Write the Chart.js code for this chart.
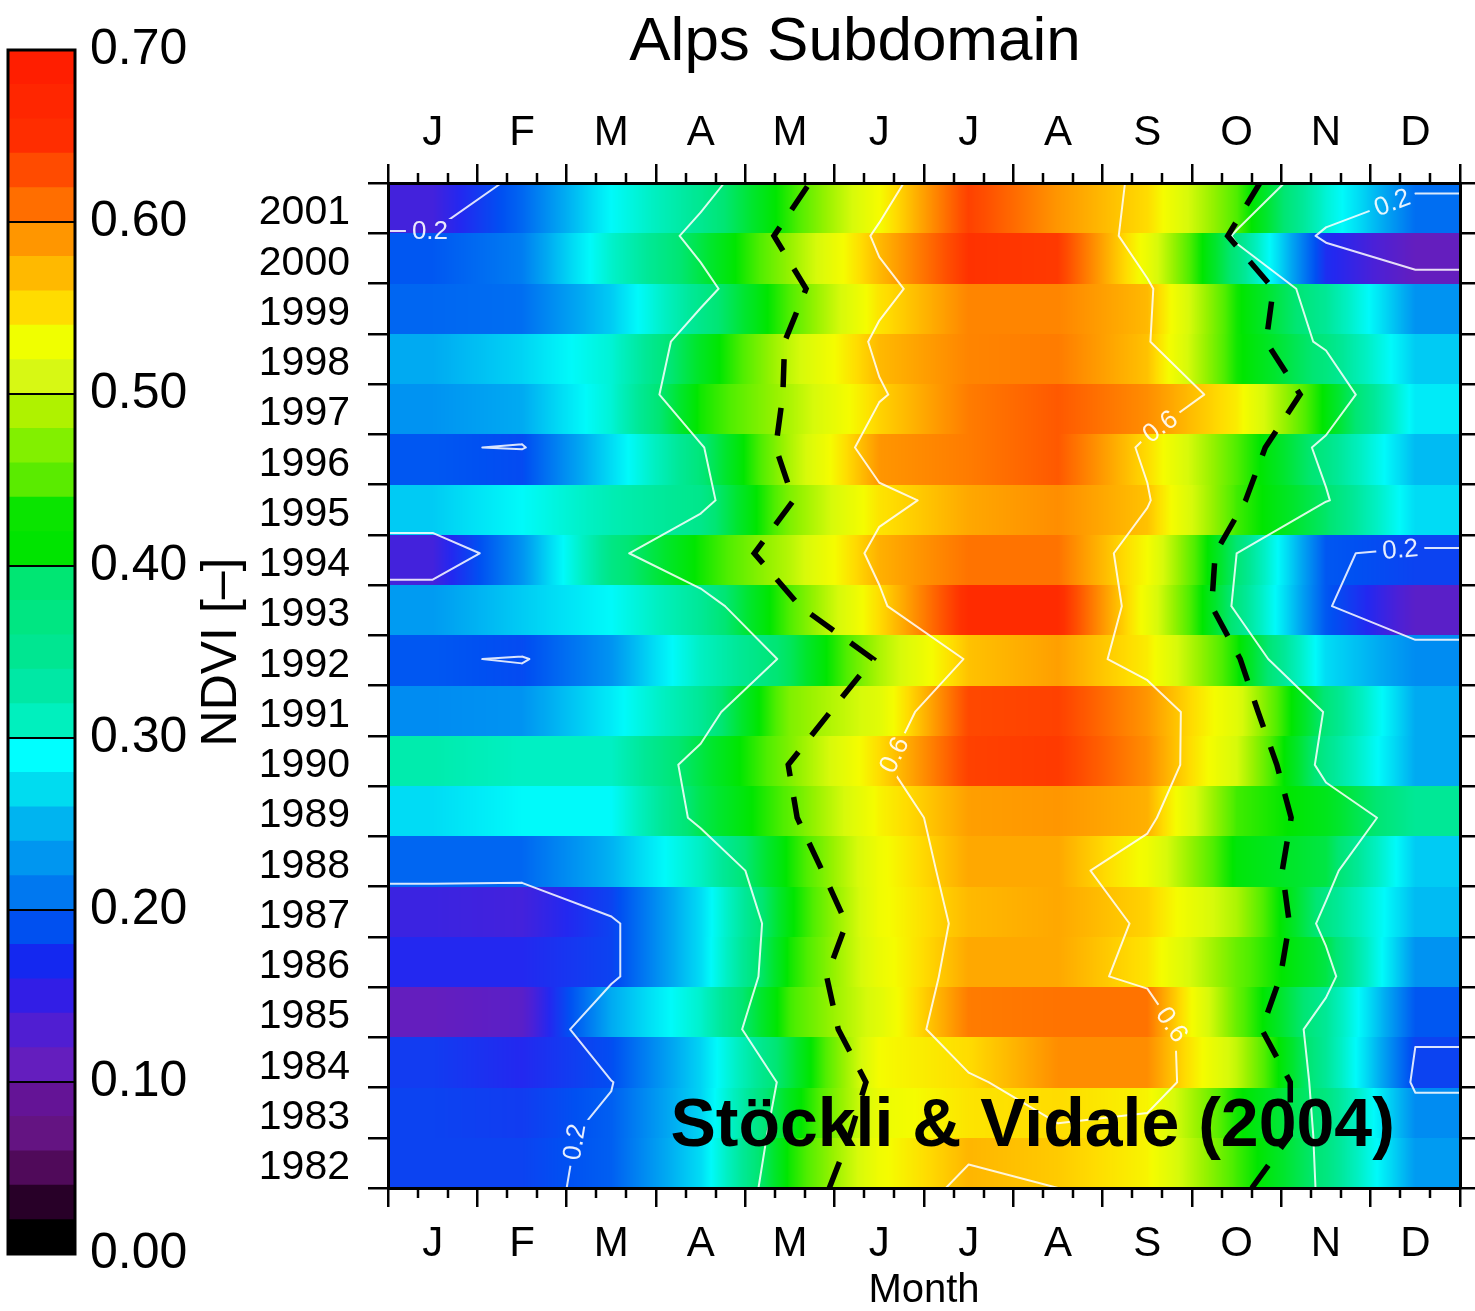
<!DOCTYPE html>
<html>
<head>
<meta charset="utf-8">
<title>Alps Subdomain NDVI</title>
<script src="https://cdn.jsdelivr.net/npm/chart.js@4.4.1/dist/chart.umd.min.js"></script>
<style>
  html, body { margin: 0; padding: 0; background: #fff; }
  #wrap { position: relative; width: 1475px; height: 1311px; }
  #main-box { position: absolute; left: 235px; top: 0; width: 1240px; height: 1311px; z-index: 1; }
  #bar-box { position: absolute; left: 0; top: 0; width: 260px; height: 1311px; z-index: 2; }
</style>
</head>
<body>
<div id="wrap">
  <div id="main-box"><canvas id="ndvi-chart"></canvas></div>
  <div id="bar-box"><canvas id="ndvi-bar"></canvas></div>
</div>
<script>
const months = ['J', 'F', 'M', 'A', 'M', 'J', 'J', 'A', 'S', 'O', 'N', 'D'];
const years = [1982, 1983, 1984, 1985, 1986, 1987, 1988, 1989, 1990, 1991,
               1992, 1993, 1994, 1995, 1996, 1997, 1998, 1999, 2000, 2001];

// monthly mean NDVI, one row per year (1982 first), Jan..Dec
const ndvi = [
  [0.19, 0.19, 0.21, 0.29, 0.46, 0.565, 0.612, 0.60, 0.575, 0.475, 0.39, 0.25],   // 1982
  [0.19, 0.185, 0.21, 0.285, 0.44, 0.56, 0.585, 0.59, 0.575, 0.46, 0.39, 0.24],   // 1983
  [0.185, 0.17, 0.198, 0.285, 0.42, 0.57, 0.59, 0.635, 0.635, 0.53, 0.37, 0.19],  // 1984
  [0.12, 0.13, 0.26, 0.335, 0.475, 0.55, 0.645, 0.65, 0.65, 0.49, 0.37, 0.205],   // 1985
  [0.17, 0.17, 0.19, 0.29, 0.46, 0.56, 0.62, 0.62, 0.585, 0.49, 0.42, 0.245],     // 1986
  [0.155, 0.15, 0.19, 0.29, 0.45, 0.565, 0.61, 0.62, 0.595, 0.52, 0.385, 0.27],   // 1987
  [0.215, 0.215, 0.265, 0.34, 0.46, 0.565, 0.62, 0.62, 0.565, 0.45, 0.42, 0.28],  // 1988
  [0.29, 0.31, 0.31, 0.415, 0.485, 0.575, 0.625, 0.63, 0.615, 0.475, 0.44, 0.37], // 1989
  [0.355, 0.34, 0.34, 0.42, 0.50, 0.59, 0.68, 0.685, 0.635, 0.54, 0.38, 0.26],    // 1990
  [0.24, 0.245, 0.30, 0.37, 0.50, 0.55, 0.675, 0.68, 0.63, 0.55, 0.395, 0.26],    // 1991
  [0.205, 0.196, 0.245, 0.34, 0.41, 0.52, 0.605, 0.625, 0.58, 0.46, 0.29, 0.24],  // 1992
  [0.25, 0.28, 0.31, 0.37, 0.48, 0.59, 0.70, 0.70, 0.56, 0.39, 0.205, 0.13],      // 1993
  [0.15, 0.245, 0.385, 0.46, 0.525, 0.615, 0.65, 0.65, 0.57, 0.40, 0.205, 0.19],  // 1994
  [0.28, 0.31, 0.35, 0.38, 0.50, 0.585, 0.62, 0.635, 0.605, 0.475, 0.405, 0.29],  // 1995
  [0.205, 0.196, 0.29, 0.395, 0.52, 0.63, 0.645, 0.665, 0.59, 0.48, 0.385, 0.27], // 1996
  [0.245, 0.26, 0.33, 0.46, 0.52, 0.595, 0.645, 0.665, 0.635, 0.58, 0.45, 0.30],  // 1997
  [0.26, 0.285, 0.33, 0.435, 0.53, 0.61, 0.64, 0.645, 0.605, 0.46, 0.39, 0.28],   // 1998
  [0.215, 0.22, 0.28, 0.38, 0.48, 0.585, 0.64, 0.64, 0.61, 0.46, 0.37, 0.245],    // 1999
  [0.205, 0.23, 0.335, 0.42, 0.51, 0.61, 0.69, 0.685, 0.56, 0.39, 0.175, 0.12],   // 2000
  [0.15, 0.215, 0.31, 0.375, 0.47, 0.57, 0.68, 0.63, 0.59, 0.48, 0.33, 0.22]      // 2001
];

// start and end of the growing season, in months from 1 Jan (1982 first)
const seasonStart = [4.94, 5.17, 5.35, 5.04, 4.91, 5.13, 4.86, 4.58, 4.48, 4.95,
                     5.43, 4.61, 4.10, 4.54, 4.34, 4.42, 4.44, 4.68, 4.32, 4.72];
const seasonEnd = [9.67, 10.10, 10.10, 9.78, 9.99, 10.09, 10.01, 10.11, 9.95, 9.74,
                   9.54, 9.22, 9.26, 9.60, 9.82, 10.21, 9.83, 9.91, 9.40, 9.76];

const contourLevels = [0.2, 0.4, 0.6];
// where the contour values are written (month, year)
const contourLabels = [
  { level: 0.2, month: 0.47, year: 2000.2 },
  { level: 0.2, month: 11.27, year: 2000.5 },
  { level: 0.6, month: 8.64, year: 1996.4 },
  { level: 0.6, month: 5.65, year: 1990.2 },
  { level: 0.2, month: 11.33, year: 1994.1 },
  { level: 0.6, month: 8.7, year: 1985.0 },
  { level: 0.2, month: 1.98, year: 1982.9 }
];

const legendTicks = [0, 0.1, 0.2, 0.3, 0.4, 0.5, 0.6, 0.7];

// 35 colour classes of the legend, 0.00 -> 0.70
const levelColors = [
  'rgb(0,0,0)', 'rgb(40,0,40)', 'rgb(80,10,90)', 'rgb(100,20,130)', 'rgb(100,20,150)',
  'rgb(100,30,190)', 'rgb(80,30,210)', 'rgb(50,30,230)', 'rgb(20,40,240)', 'rgb(0,80,240)',
  'rgb(0,120,240)', 'rgb(0,150,240)', 'rgb(0,180,240)', 'rgb(0,220,240)', 'rgb(0,255,255)',
  'rgb(0,240,190)', 'rgb(0,232,165)', 'rgb(0,230,145)', 'rgb(0,230,130)', 'rgb(0,230,115)',
  'rgb(0,228,0)', 'rgb(10,228,0)', 'rgb(90,235,0)', 'rgb(130,240,0)', 'rgb(175,242,0)',
  'rgb(215,248,20)', 'rgb(240,255,0)', 'rgb(255,220,0)', 'rgb(255,185,0)', 'rgb(255,150,0)',
  'rgb(255,110,0)', 'rgb(255,75,0)', 'rgb(255,45,0)', 'rgb(255,38,0)', 'rgb(255,30,0)'
];

// continuous ramp used to shade the field: [value, r, g, b]
const ramp = [
  [0.00, 0, 0, 0], [0.04, 40, 0, 40], [0.07, 85, 10, 95], [0.10, 100, 22, 145],
  [0.12, 100, 30, 190], [0.145, 75, 32, 215], [0.17, 35, 40, 240], [0.20, 0, 80, 242],
  [0.23, 0, 125, 242], [0.26, 0, 170, 242], [0.29, 0, 220, 245], [0.31, 0, 250, 250],
  [0.34, 0, 240, 195], [0.37, 0, 232, 150], [0.40, 0, 230, 115], [0.43, 0, 230, 45],
  [0.455, 0, 230, 0], [0.48, 80, 238, 0], [0.51, 150, 242, 0], [0.54, 215, 250, 10],
  [0.57, 245, 252, 0], [0.59, 255, 220, 0], [0.61, 255, 185, 0], [0.63, 255, 150, 0],
  [0.65, 255, 115, 0], [0.67, 255, 80, 0], [0.69, 255, 50, 0], [0.72, 255, 30, 0]
];

Chart.defaults.font.family = '"Liberation Sans", Arial, sans-serif';
Chart.defaults.color = '#000';

function shade(v) {
  let i = 1;
  while (i < ramp.length - 1 && v > ramp[i][0]) i++;
  const a = ramp[i - 1], b = ramp[i];
  const t = Math.min(1, Math.max(0, (v - a[0]) / (b[0] - a[0])));
  const c = [1, 2, 3].map(k => Math.round(a[k] + t * (b[k] - a[k])));
  return `rgb(${c.join(',')})`;
}

// linear interpolation between month centres, flat beyond Jan/Dec centres
function valueAt(row, m) {
  const t = Math.min(row.length - 1, Math.max(0, m - 0.5));
  const i = Math.min(row.length - 2, Math.floor(t));
  return row[i] + (t - i) * (row[i + 1] - row[i]);
}

// marching squares over the year x month grid, in data units
function contourSegments(level) {
  const xs = [0, ...months.map((_, i) => i + 0.5), 12];
  const grid = ndvi.map(row => [row[0], ...row, row[row.length - 1]]);
  const segs = [];
  for (let r = 0; r < grid.length - 1; r++) {
    for (let c = 0; c < xs.length - 1; c++) {
      const corners = [
        [xs[c], years[r], grid[r][c]],
        [xs[c + 1], years[r], grid[r][c + 1]],
        [xs[c + 1], years[r + 1], grid[r + 1][c + 1]],
        [xs[c], years[r + 1], grid[r + 1][c]]
      ];
      const pts = [];
      for (let e = 0; e < 4; e++) {
        const a = corners[e], b = corners[(e + 1) % 4];
        if ((a[2] < level) !== (b[2] < level)) {
          const t = (level - a[2]) / (b[2] - a[2]);
          pts.push({ x: a[0] + t * (b[0] - a[0]), y: a[1] + t * (b[1] - a[1]) });
        }
      }
      if (pts.length === 2) {
        segs.push([pts[0], pts[1]]);
      } else if (pts.length === 4) {
        const mid = corners.reduce((s, k) => s + k[2], 0) / 4;
        if ((mid < level) === (corners[0][2] < level)) {
          segs.push([pts[0], pts[1]], [pts[2], pts[3]]);
        } else {
          segs.push([pts[3], pts[0]], [pts[1], pts[2]]);
        }
      }
    }
  }
  return segs;
}

function nearestOnSegments(segs, p) {
  let best = null;
  segs.forEach(([a, b]) => {
    const dx = b.x - a.x, dy = b.y - a.y;
    const len2 = dx * dx + dy * dy || 1;
    const t = Math.max(0, Math.min(1, ((p.x - a.x) * dx + (p.y - a.y) * dy) / len2));
    const qx = a.x + t * dx, qy = a.y + t * dy;
    const d = (qx - p.x) ** 2 + (qy - p.y) ** 2;
    if (!best || d < best.d) best = { d, x: qx, y: qy, angle: Math.atan2(dy, dx) };
  });
  return best;
}

const ndviField = {
  id: 'ndviField',
  beforeDatasetsDraw(chart) {
    const { ctx, chartArea: area } = chart;
    const { x, y, yc } = chart.scales;

    ctx.save();
    ctx.beginPath();
    ctx.rect(area.left, area.top, area.width, area.height);
    ctx.clip();
    years.forEach((yr, r) => {
      const top = Math.round(y.getPixelForValue(yr + 0.5));
      const bottom = Math.round(y.getPixelForValue(yr - 0.5));
      for (let px = Math.floor(area.left); px < Math.ceil(area.right); px++) {
        ctx.fillStyle = shade(valueAt(ndvi[r], x.getValueForPixel(px + 0.5)));
        ctx.fillRect(px, top, 1, bottom - top);
      }
    });
    ctx.restore();

    // white contour lines with gaps for their labels
    const toPx = p => ({ x: x.getPixelForValue(p.x), y: yc.getPixelForValue(p.y) });
    const lines = {};
    contourLevels.forEach(level => { lines[level] = contourSegments(level).map(s => s.map(toPx)); });

    ctx.save();
    ctx.font = '26px "Liberation Sans", Arial, sans-serif';
    const marks = contourLabels.map(lb => {
      const p = { x: x.getPixelForValue(lb.month), y: yc.getPixelForValue(lb.year) };
      const near = nearestOnSegments(lines[lb.level], p);
      let angle = near.angle;
      if (angle > Math.PI / 2) angle -= Math.PI;
      if (angle <= -Math.PI / 2) angle += Math.PI;
      const text = lb.level.toFixed(1);
      return { x: near.x, y: near.y, angle, text, w: ctx.measureText(text).width + 12, h: 24 };
    });

    ctx.beginPath();
    ctx.rect(area.left, area.top, area.width, area.height);
    marks.forEach(m => {
      const c = Math.cos(m.angle), s = Math.sin(m.angle);
      const pts = [[-m.w / 2, -m.h / 2], [m.w / 2, -m.h / 2], [m.w / 2, m.h / 2], [-m.w / 2, m.h / 2]]
        .map(([u, v]) => [m.x + u * c - v * s, m.y + u * s + v * c]);
      ctx.moveTo(pts[0][0], pts[0][1]);
      pts.slice(1).forEach(q => ctx.lineTo(q[0], q[1]));
      ctx.closePath();
    });
    ctx.clip('evenodd');
    ctx.strokeStyle = 'rgba(255,255,255,0.85)';
    ctx.lineWidth = 2;
    ctx.lineCap = 'round';
    ctx.lineJoin = 'round';
    ctx.beginPath();
    Object.values(lines).forEach(segs => segs.forEach(([a, b]) => {
      ctx.moveTo(a.x, a.y);
      ctx.lineTo(b.x, b.y);
    }));
    ctx.stroke();
    ctx.restore();

    ctx.save();
    ctx.font = '26px "Liberation Sans", Arial, sans-serif';
    ctx.fillStyle = 'rgba(255,255,255,0.9)';
    ctx.textAlign = 'center';
    ctx.textBaseline = 'middle';
    marks.forEach(m => {
      ctx.save();
      ctx.translate(m.x, m.y);
      ctx.rotate(m.angle);
      ctx.fillText(m.text, 0, 1);
      ctx.restore();
    });
    ctx.restore();
  },
  afterDraw(chart) {
    const { ctx, chartArea: area } = chart;
    const { x, y } = chart.scales;

    // dekad ticks between the month ticks
    ctx.save();
    ctx.strokeStyle = '#000';
    ctx.lineWidth = 2.5;
    ctx.beginPath();
    for (let k = 1; k < 36; k++) {
      if (k % 3 === 0) continue;
      const px = Math.round(x.getPixelForValue(k / 3));
      ctx.moveTo(px, area.top);
      ctx.lineTo(px, area.top - 10);
      ctx.moveTo(px, area.bottom);
      ctx.lineTo(px, area.bottom + 10);
    }
    ctx.stroke();

    ctx.font = 'bold 68px "Liberation Sans", Arial, sans-serif';
    ctx.fillStyle = '#000';
    ctx.textAlign = 'right';
    ctx.textBaseline = 'alphabetic';
    ctx.fillText('Stöckli & Vidale (2004)', x.getPixelForValue(11.27), y.getPixelForValue(1982.34));
    ctx.restore();
  }
};

function monthAxis(position, padding, height) {
  return {
    type: 'linear',
    position,
    min: 0,
    max: 12,
    afterBuildTicks: s => { s.ticks = months.map((_, i) => ({ value: i + 0.5 })); },
    afterFit: s => { s.height = height; },
    ticks: { callback: (v, i) => months[i], autoSkip: false, maxRotation: 0, padding, font: { size: 42 } },
    grid: { offset: true, drawOnChartArea: false, color: '#000', lineWidth: 2.5, tickLength: 19 },
    border: { color: '#000', width: 3, z: 1 }
  };
}

function yearAxis(position, width, showLabels) {
  return {
    type: 'linear',
    position,
    min: years[0] - 0.5,
    max: years[years.length - 1] + 0.5,
    afterBuildTicks: s => { s.ticks = years.map(v => ({ value: v })); },
    afterFit: s => { s.width = width; },
    ticks: { display: showLabels, callback: v => String(v), autoSkip: false, padding: 18, labelOffset: 5, font: { size: 41 } },
    grid: { offset: true, drawOnChartArea: false, color: '#000', lineWidth: 2.5, tickLength: showLabels ? 20 : 15 },
    border: { color: '#000', width: 3, z: 1 }
  };
}

const bottomAxis = monthAxis('bottom', 12, 123);
bottomAxis.title = { display: true, text: 'Month', font: { size: 40, lineHeight: 1 }, padding: 0 };

new Chart(document.getElementById('ndvi-chart'), {
  type: 'line',
  data: {
    datasets: [
      {
        label: 'Season start',
        data: years.map((yr, i) => ({ x: seasonStart[i], y: yr })),
        yAxisID: 'yc'
      },
      {
        label: 'Season end',
        data: years.map((yr, i) => ({ x: seasonEnd[i], y: yr })),
        yAxisID: 'yc'
      }
    ].map(ds => Object.assign(ds, {
      borderColor: '#000',
      borderWidth: 5.5,
      borderDash: [28, 21],
      borderCapStyle: 'butt',
      pointRadius: 0,
      tension: 0,
      fill: false
    }))
  },
  options: {
    responsive: true,
    maintainAspectRatio: false,
    animation: false,
    events: [],
    plugins: {
      legend: { display: false },
      tooltip: { enabled: false },
      title: {
        display: true,
        text: 'Alps Subdomain',
        font: { size: 62, weight: 'normal' },
        padding: { top: 6, bottom: 0 }
      }
    },
    scales: {
      x: bottomAxis,
      x2: monthAxis('top', 5, 183 - (62 * 1.2 + 6)),
      y: yearAxis('left', 153, true),
      y2: yearAxis('right', 15, false),
      yc: { type: 'linear', display: false, min: years[0], max: years[years.length - 1] }
    }
  },
  plugins: [ndviField]
});

// colour bar with its title
const barFrame = {
  id: 'barFrame',
  afterDraw(chart) {
    const { ctx, chartArea: a } = chart;
    ctx.save();
    ctx.strokeStyle = '#000';
    ctx.lineWidth = 3;
    ctx.strokeRect(a.left, a.top, a.width, a.height);
    ctx.translate(chart.width - 38, (a.top + a.bottom) / 2);
    ctx.rotate(-Math.PI / 2);
    ctx.font = '50px "Liberation Sans", Arial, sans-serif';
    ctx.fillStyle = '#000';
    ctx.textAlign = 'center';
    ctx.textBaseline = 'middle';
    ctx.fillText('NDVI [–]', 0, 0);
    ctx.restore();
  }
};

const levelStep = legendTicks[legendTicks.length - 1] / levelColors.length;

new Chart(document.getElementById('ndvi-bar'), {
  type: 'bar',
  data: {
    labels: ['NDVI'],
    datasets: levelColors.map(color => ({
      data: [levelStep],
      backgroundColor: color,
      borderWidth: 0,
      barPercentage: 1,
      categoryPercentage: 1
    }))
  },
  options: {
    responsive: true,
    maintainAspectRatio: false,
    animation: false,
    events: [],
    layout: { padding: { left: 8, top: 50, bottom: 57, right: 0 } },
    plugins: { legend: { display: false }, tooltip: { enabled: false } },
    scales: {
      x: { display: false, stacked: true },
      y: {
        stacked: true,
        position: 'right',
        min: 0,
        max: legendTicks[legendTicks.length - 1],
        afterBuildTicks: s => { s.ticks = legendTicks.map(v => ({ value: v })); },
        afterFit: s => { s.width = 185; },
        ticks: { callback: v => v.toFixed(2), padding: 15, font: { size: 50 } },
        grid: { color: '#000', lineWidth: 2, drawTicks: false, z: 1 },
        border: { display: false }
      }
    }
  },
  plugins: [barFrame]
});
</script>
</body>
</html>
